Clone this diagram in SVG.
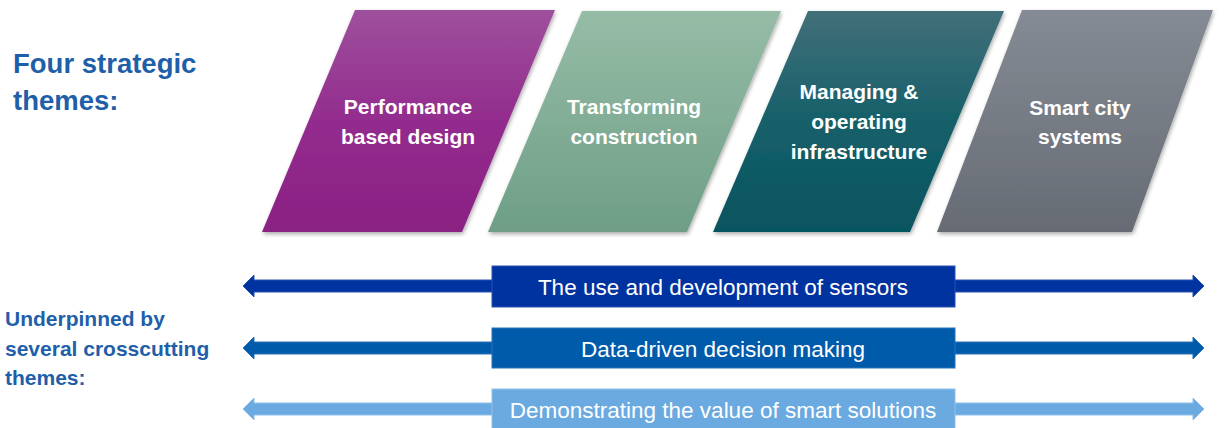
<svg xmlns="http://www.w3.org/2000/svg" width="1231" height="428" viewBox="0 0 1231 428">
<defs>
<linearGradient id="gP" x1="0" y1="0" x2="0" y2="1"><stop offset="0" stop-color="#9E509C"/><stop offset="0.5" stop-color="#932C8E"/><stop offset="1" stop-color="#8A2083"/></linearGradient>
<linearGradient id="gG" x1="0" y1="0" x2="0" y2="1"><stop offset="0" stop-color="#96BCA6"/><stop offset="1" stop-color="#6E9E86"/></linearGradient>
<linearGradient id="gT" x1="0" y1="0" x2="0" y2="1"><stop offset="0" stop-color="#426F79"/><stop offset="0.5" stop-color="#16606A"/><stop offset="1" stop-color="#06545F"/></linearGradient>
<linearGradient id="gS" x1="0" y1="0" x2="0" y2="1"><stop offset="0" stop-color="#858B94"/><stop offset="1" stop-color="#666B74"/></linearGradient>
<filter id="sh" x="-10%" y="-10%" width="120%" height="120%"><feGaussianBlur in="SourceAlpha" stdDeviation="2"/><feOffset dx="1" dy="2"/><feComponentTransfer><feFuncA type="linear" slope="0.35"/></feComponentTransfer><feMerge><feMergeNode/><feMergeNode in="SourceGraphic"/></feMerge></filter>
</defs>
<style>
.lbl{font-family:"Liberation Sans",Arial,sans-serif;font-weight:bold;fill:#1F5FAA}
.th{font-family:"Liberation Sans",Arial,sans-serif;font-weight:bold;font-size:21px;fill:#FFFFFF;text-anchor:middle}
.bt{font-family:"Liberation Sans",Arial,sans-serif;font-size:22.5px;fill:#FFFFFF;text-anchor:middle}
</style>
<g id="title">
<text class="lbl" font-size="27.5" x="13" y="73">Four strategic</text>
<text class="lbl" font-size="27.5" x="13" y="110">themes:</text>
</g>
<g id="subtitle">
<text class="lbl" font-size="21" x="5" y="326">Underpinned by</text>
<text class="lbl" font-size="21" x="5" y="356">several crosscutting</text>
<text class="lbl" font-size="21" x="5" y="385">themes:</text>
</g>
<g id="theme1">
<polygon points="355,10 555,10 462,232 262,232" fill="url(#gP)" filter="url(#sh)"/>
<text class="th" x="408" y="114">Performance</text>
<text class="th" x="408" y="144">based design</text>
</g>
<g id="theme2">
<polygon points="582,11 781,11 687,232 488,232" fill="url(#gG)" filter="url(#sh)"/>
<text class="th" x="634" y="114">Transforming</text>
<text class="th" x="634" y="144">construction</text>
</g>
<g id="theme3">
<polygon points="808,11 1004,11 910,232 713,232" fill="url(#gT)" filter="url(#sh)"/>
<text class="th" x="859" y="99">Managing &amp;</text>
<text class="th" x="859" y="129">operating</text>
<text class="th" x="859" y="159">infrastructure</text>
</g>
<g id="theme4">
<polygon points="1022,10 1213,10 1132,232 937,232" fill="url(#gS)" filter="url(#sh)"/>
<text class="th" x="1080" y="115">Smart city</text>
<text class="th" x="1080" y="144">systems</text>
</g>
<g id="connectors">
<polygon points="243,286 254,275 254,280 1193,280 1193,275 1204,286 1193,297 1193,292 254,292 254,297" fill="#0033A0" stroke="#2A52B0" stroke-width="1"/>
<polygon points="243,348 254,337 254,342 1193,342 1193,337 1204,348 1193,359 1193,354 254,354 254,359" fill="#005BAA" stroke="#2A72B8" stroke-width="1"/>
<polygon points="243,409 254,398 254,403 1193,403 1193,398 1204,409 1193,420 1193,415 254,415 254,420" fill="#6AAAE0" stroke="#8FBFEA" stroke-width="1"/>
</g>
<g id="cross1">
<rect x="492" y="266" width="463" height="41" fill="#0033A0" stroke="#2A52B0" stroke-width="1"/>
<text class="bt" x="723" y="295">The use and development of sensors</text>
</g>
<g id="cross2">
<rect x="492" y="328" width="463" height="40" fill="#005BAA" stroke="#2A72B8" stroke-width="1"/>
<text class="bt" x="723" y="357">Data-driven decision making</text>
</g>
<g id="cross3">
<rect x="492" y="389" width="463" height="42" fill="#6AAAE0" stroke="#8FBFEA" stroke-width="1"/>
<text class="bt" x="723" y="418">Demonstrating the value of smart solutions</text>
</g>
</svg>
